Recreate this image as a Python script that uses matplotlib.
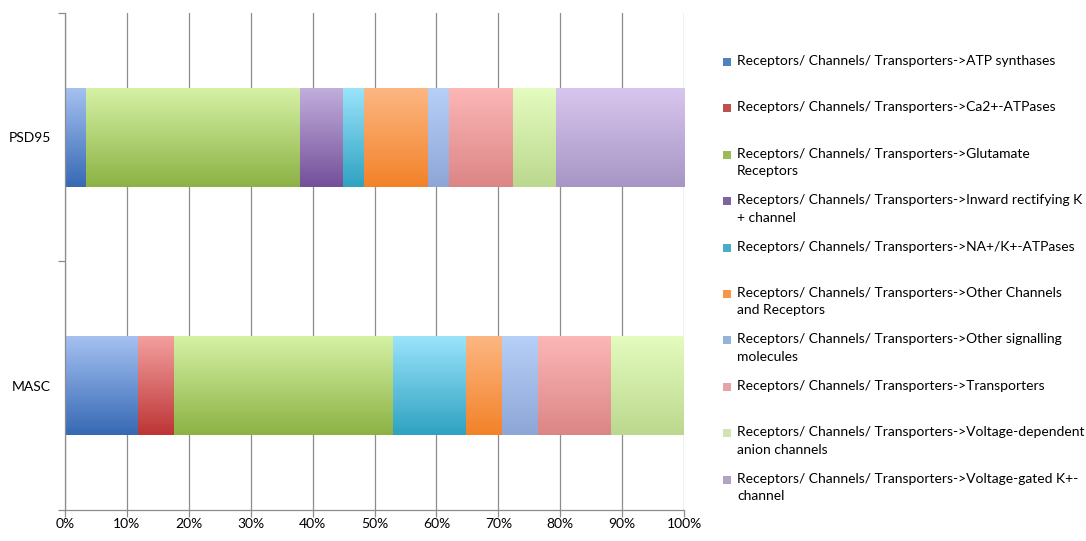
import numpy as np
import matplotlib
matplotlib.use("Agg")
from matplotlib import pyplot as plt
from matplotlib.colors import to_rgb
from matplotlib.patches import Rectangle

plt.rcParams['font.family'] = ['Lato', 'DejaVu Sans']

samples = ["MASC", "PSD95"]

categories = [
    "Receptors/ Channels/ Transporters->ATP synthases",
    "Receptors/ Channels/ Transporters->Ca2+-ATPases",
    "Receptors/ Channels/ Transporters->Glutamate\nReceptors",
    "Receptors/ Channels/ Transporters->Inward rectifying K\n+ channel",
    "Receptors/ Channels/ Transporters->NA+/K+-ATPases",
    "Receptors/ Channels/ Transporters->Other Channels\nand Receptors",
    "Receptors/ Channels/ Transporters->Other signalling\nmolecules",
    "Receptors/ Channels/ Transporters->Transporters",
    "Receptors/ Channels/ Transporters->Voltage-dependent\nanion channels",
    "Receptors/ Channels/ Transporters->Voltage-gated K+-\nchannel",
]

# protein counts per category
masc_counts = [2, 1, 6, 0, 2, 1, 1, 2, 2, 0]
psd95_counts = [1, 0, 10, 2, 1, 3, 1, 3, 2, 6]

# gradient colours (top, bottom) and legend swatch colour
top_colors = ["#a6c2f2", "#f4a0a0", "#d6f2a6", "#c2afdd", "#9ce4fc",
              "#fdb783", "#b7d0f8", "#fcb7b7", "#e4fcbf", "#d8c6ee"]
bottom_colors = ["#3669b4", "#bd3535", "#8cb244", "#744f99", "#2ea2c1",
                 "#f28229", "#8ea6d6", "#dc8585", "#bcd88e", "#a796c5"]
legend_colors = ["#4f81bd", "#c0504d", "#9bbb59", "#8064a2", "#4bacc6",
                 "#f79646", "#95b3d7", "#e6a3a3", "#d0e3b0", "#b3a2c7"]

counts = np.array([masc_counts, psd95_counts], dtype=float)
shares = counts / counts.sum(axis=1, keepdims=True) * 100

fig = plt.figure(figsize=(10.86, 5.41), dpi=100)
ax = fig.add_axes([0.0599, 0.0573, 0.5700, 0.9187])

grey = "#8c8c8c"
ax.set_xlim(0, 100)
ax.set_ylim(-0.5, 1.5)
ax.set_xticks(np.arange(0, 101, 10))
ax.set_xticklabels([f"{v}%" for v in range(0, 101, 10)], fontsize=10)
ax.xaxis.grid(True, color=grey, linewidth=0.9)
ax.set_axisbelow(True)

ax.set_yticks([-0.5, 0.5, 1.5])
ax.set_yticklabels([])
ax.set_yticks([0, 1], minor=True)
ax.set_yticklabels(samples, minor=True, fontsize=10)
ax.tick_params(axis="y", which="minor", length=0, pad=10)
ax.tick_params(axis="y", which="major", length=5, color=grey, width=0.9)
ax.tick_params(axis="x", length=5, color=grey, width=0.9, pad=1)

for side in ["top", "right"]:
    ax.spines[side].set_visible(False)
for side in ["left", "bottom"]:
    ax.spines[side].set_color(grey)
    ax.spines[side].set_linewidth(0.9)

ramp = np.linspace(0, 1, 128)[:, None]
left = np.zeros(len(samples))
for i in range(len(categories)):
    bars = ax.barh(range(len(samples)), shares[:, i], left=left, height=0.4,
                   color="none", edgecolor="none")
    c_top = np.array(to_rgb(top_colors[i]))
    c_bot = np.array(to_rgb(bottom_colors[i]))
    grad = c_top[None, None, :] * (1 - ramp[:, :, None]) + c_bot[None, None, :] * ramp[:, :, None]
    for bar in bars:
        w = bar.get_width()
        if w <= 0:
            continue
        x0, y0, h = bar.get_x(), bar.get_y(), bar.get_height()
        im = ax.imshow(grad, extent=(x0, x0 + w, y0, y0 + h), origin="upper",
                       aspect="auto", interpolation="bilinear", zorder=2)
        im.set_clip_path(bar)
    left += shares[:, i]

ax.set_xlim(0, 100)
ax.set_ylim(-0.5, 1.5)

# legend on the right, one entry every ~46 px
for i, label in enumerate(categories):
    y = 1 - (63 + i * 46.4) / 541
    fig.patches.append(Rectangle((723 / 1086, y - 3 / 541), 8 / 1086, 8 / 541,
                                 transform=fig.transFigure, facecolor=legend_colors[i],
                                 edgecolor="none"))
    fig.text(737 / 1086, y + 8 / 541, label, fontsize=10, va="top", ha="left",
             linespacing=1.55)

fig.savefig("out.png", dpi=100)
